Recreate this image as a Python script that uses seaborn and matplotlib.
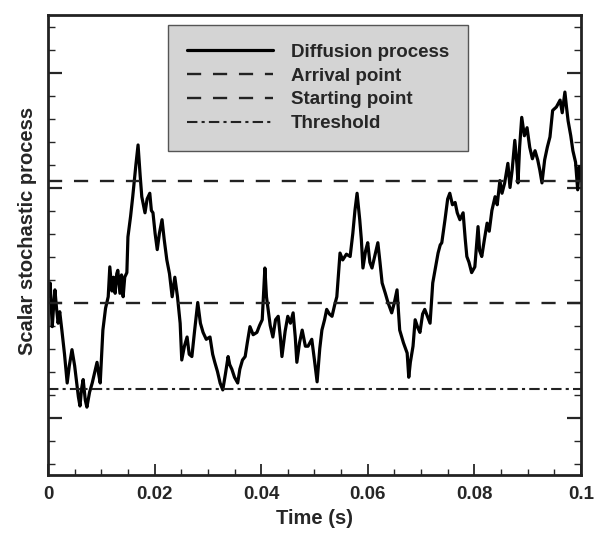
import numpy as np
import matplotlib
matplotlib.use('Agg')
import matplotlib.pyplot as plt
import seaborn as sns
from matplotlib.ticker import MultipleLocator, NullFormatter, FuncFormatter

# Diffusion process
time_s = [0.0000, 0.0004, 0.0008, 0.0011, 0.0013, 0.0016, 0.0019, 0.0022, 0.0026, 0.0031,
          0.0036, 0.0040, 0.0045, 0.0050, 0.0054, 0.0057, 0.0060, 0.0063, 0.0066, 0.0070,
          0.0073, 0.0078, 0.0083, 0.0088, 0.0092, 0.0095, 0.0098, 0.0103, 0.0108, 0.0113,
          0.0116, 0.0120, 0.0123, 0.0126, 0.0129, 0.0131, 0.0135, 0.0138, 0.0141, 0.0144,
          0.0148, 0.0150, 0.0155, 0.0159, 0.0165, 0.0169, 0.0173, 0.0176, 0.0179, 0.0182,
          0.0186, 0.0191, 0.0194, 0.0197, 0.0201, 0.0205, 0.0209, 0.0214, 0.0218, 0.0223,
          0.0228, 0.0233, 0.0238, 0.0243, 0.0248, 0.0251, 0.0256, 0.0261, 0.0265, 0.0270,
          0.0275, 0.0281, 0.0286, 0.0291, 0.0297, 0.0304, 0.0309, 0.0313, 0.0318, 0.0323,
          0.0328, 0.0333, 0.0338, 0.0341, 0.0345, 0.0350, 0.0356, 0.0360, 0.0365, 0.0370,
          0.0374, 0.0379, 0.0385, 0.0392, 0.0397, 0.0402, 0.0407, 0.0410, 0.0413, 0.0417,
          0.0422, 0.0427, 0.0432, 0.0436, 0.0439, 0.0445, 0.0450, 0.0455, 0.0460, 0.0464,
          0.0467, 0.0472, 0.0477, 0.0483, 0.0488, 0.0495, 0.0500, 0.0505, 0.0510, 0.0514,
          0.0519, 0.0523, 0.0528, 0.0533, 0.0538, 0.0542, 0.0548, 0.0553, 0.0560, 0.0567,
          0.0572, 0.0576, 0.0580, 0.0585, 0.0588, 0.0591, 0.0596, 0.0600, 0.0604, 0.0608,
          0.0614, 0.0619, 0.0623, 0.0627, 0.0633, 0.0638, 0.0645, 0.0650, 0.0655, 0.0660,
          0.0667, 0.0674, 0.0677, 0.0680, 0.0685, 0.0689, 0.0694, 0.0698, 0.0703, 0.0707,
          0.0712, 0.0717, 0.0722, 0.0727, 0.0732, 0.0736, 0.0739, 0.0745, 0.0750, 0.0754,
          0.0759, 0.0764, 0.0768, 0.0773, 0.0779, 0.0783, 0.0786, 0.0790, 0.0795, 0.0801,
          0.0807, 0.0810, 0.0814, 0.0819, 0.0824, 0.0828, 0.0833, 0.0839, 0.0843, 0.0848,
          0.0852, 0.0857, 0.0863, 0.0867, 0.0871, 0.0876, 0.0880, 0.0882, 0.0885, 0.0889,
          0.0894, 0.0899, 0.0904, 0.0909, 0.0914, 0.0919, 0.0923, 0.0927, 0.0932, 0.0937,
          0.0942, 0.0947, 0.0954, 0.0961, 0.0965, 0.0970, 0.0973, 0.0976, 0.0981, 0.0985,
          0.0990, 0.0994, 0.0997, 0.1000]
process = [1.05, 1.17, 0.79, 1.00, 1.11, 0.95, 0.82, 0.92, 0.76, 0.55,
           0.30, 0.45, 0.59, 0.45, 0.30, 0.18, 0.10, 0.25, 0.33, 0.15,
           0.09, 0.22, 0.30, 0.40, 0.48, 0.38, 0.30, 0.76, 0.95, 1.05,
           1.31, 1.10, 1.22, 1.08, 1.25, 1.28, 1.08, 1.24, 1.05, 1.22,
           1.26, 1.57, 1.75, 1.92, 2.20, 2.37, 2.10, 1.92, 1.85, 1.78,
           1.90, 1.95, 1.80, 1.78, 1.60, 1.46, 1.60, 1.72, 1.55, 1.37,
           1.25, 1.05, 1.22, 1.05, 0.82, 0.50, 0.62, 0.70, 0.55, 0.53,
           0.75, 1.00, 0.82, 0.74, 0.68, 0.70, 0.55, 0.48, 0.40, 0.30,
           0.24, 0.38, 0.53, 0.46, 0.42, 0.35, 0.30, 0.42, 0.50, 0.53,
           0.65, 0.79, 0.72, 0.74, 0.80, 0.85, 1.30, 1.05, 0.94, 0.80,
           0.70, 0.85, 0.88, 0.70, 0.53, 0.75, 0.88, 0.82, 0.91, 0.70,
           0.48, 0.65, 0.76, 0.62, 0.62, 0.68, 0.50, 0.31, 0.60, 0.76,
           0.85, 0.94, 0.90, 0.88, 0.98, 1.05, 1.43, 1.37, 1.42, 1.40,
           1.60, 1.80, 1.95, 1.72, 1.55, 1.30, 1.45, 1.52, 1.35, 1.30,
           1.42, 1.52, 1.35, 1.17, 1.08, 1.00, 0.91, 1.00, 1.11, 0.76,
           0.65, 0.56, 0.35, 0.48, 0.62, 0.85, 0.78, 0.74, 0.90, 0.94,
           0.88, 0.82, 1.17, 1.30, 1.43, 1.50, 1.52, 1.72, 1.90, 1.95,
           1.85, 1.87, 1.78, 1.72, 1.78, 1.55, 1.40, 1.35, 1.26, 1.31,
           1.66, 1.45, 1.40, 1.55, 1.69, 1.62, 1.80, 1.92, 1.85, 2.06,
           1.95, 2.04, 2.21, 2.00, 2.15, 2.41, 2.20, 2.04, 2.35, 2.61,
           2.45, 2.52, 2.35, 2.25, 2.32, 2.24, 2.15, 2.04, 2.24, 2.35,
           2.44, 2.67, 2.70, 2.76, 2.65, 2.83, 2.70, 2.58, 2.45, 2.32,
           2.22, 1.98, 2.18, 2.06]

arrival_point = 2.06
starting_point = 1.00
threshold = 0.25

sns.set_theme(style='ticks')
plt.rcParams['font.family'] = ['Liberation Sans', 'DejaVu Sans']
plt.rcParams['font.weight'] = 'bold'

fig = plt.figure(figsize=(5.97, 5.36), dpi=100)
ax = fig.add_axes([0.0804, 0.1138, 0.8926, 0.8582])

sns.lineplot(x=time_s, y=process, ax=ax, color='black', lw=2.3,
             sort=False, estimator=None, label='Diffusion process')
ax.axhline(arrival_point, color='#222222', lw=1.7, ls=(0, (6, 5)), label='Arrival point')
ax.axhline(starting_point, color='#222222', lw=1.7, ls=(0, (6, 5)), label='Starting point')
ax.axhline(threshold, color='#222222', lw=1.5, ls=(0, (5, 2, 1.5, 2)), label='Threshold')

ax.set_xlim(0, 0.1)
ax.set_ylim(-0.5, 3.5)
ax.xaxis.set_major_locator(MultipleLocator(0.02))
ax.xaxis.set_minor_locator(MultipleLocator(0.005))
ax.yaxis.set_major_locator(MultipleLocator(1))
ax.yaxis.set_minor_locator(MultipleLocator(0.2))
ax.xaxis.set_major_formatter(FuncFormatter(lambda v, p: '%g' % round(v, 3)))
ax.yaxis.set_major_formatter(NullFormatter())
ax.tick_params(axis='x', which='major', direction='in', length=8, width=1.3,
               labelsize=13.5, pad=8, bottom=True, top=False)
ax.tick_params(axis='x', which='minor', direction='in', length=4, width=1,
               bottom=True, top=False)
ax.tick_params(axis='y', which='major', direction='in', length=10, width=1.6,
               left=True, right=True)
ax.tick_params(axis='y', which='minor', direction='in', length=5, width=1,
               left=True, right=True)
for s in ax.spines.values():
    s.set_linewidth(2)
    s.set_color('#222222')

ax.set_xlabel('Time (s)', fontsize=14.5, fontweight='bold', labelpad=4)
ax.set_ylabel('Scalar stochastic process', fontsize=14.5, fontweight='bold')
ax.yaxis.set_label_coords(-0.02, 0.53)

leg = ax.legend(loc='upper left', bbox_to_anchor=(0.225, 0.978), borderaxespad=0,
                fontsize=13.5, handlelength=4.6, handletextpad=0.95, labelspacing=0.35,
                borderpad=1.0, fancybox=False, framealpha=1)
leg.get_frame().set_facecolor('#d4d4d4')
leg.get_frame().set_edgecolor('#555555')
leg.get_frame().set_linewidth(1)
for t in leg.get_texts():
    t.set_fontweight('bold')

fig.savefig('out.png', dpi=100)
